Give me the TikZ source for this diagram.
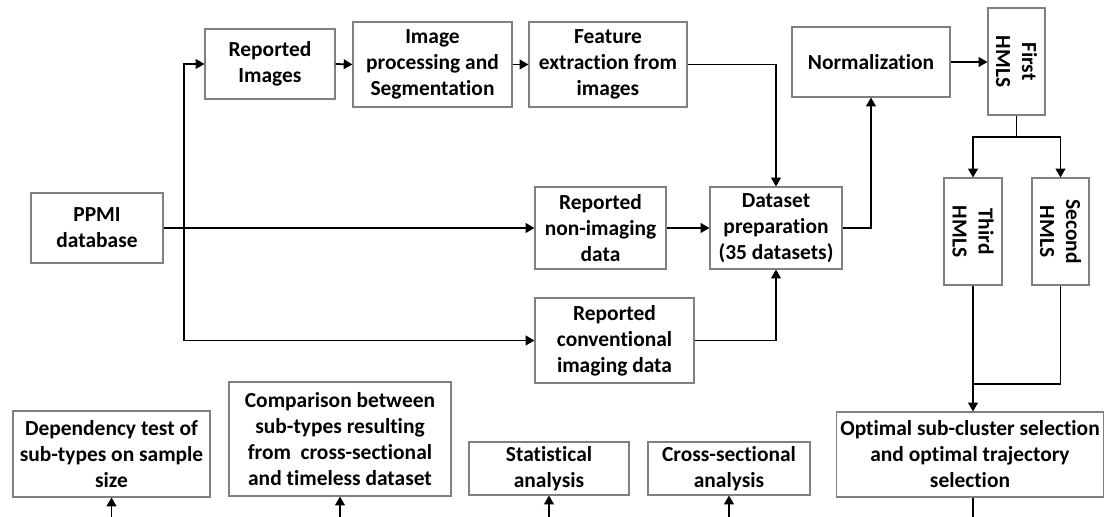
\documentclass[tikz,border=0pt]{standalone}
\usepackage{fontspec}
\setmainfont{Carlito}[Ligatures=NoCommon]
\usetikzlibrary{arrows.meta}

\begin{document}
\begin{tikzpicture}[
  box/.style={draw=black!50,line width=0.6pt,align=center,inner sep=2pt,
    font=\bfseries\fontsize{12.2}{14.8}\selectfont},
  flow/.style={line width=1pt,-{Triangle[length=5pt,width=5.5pt]}},
  link/.style={line width=1pt}
]
\useasboundingbox (0,0) rectangle (22.1,10.34);

% Data sources
\node[box,minimum width=2.64cm,minimum height=1.40cm] (ppmi) at (1.94,5.78) {PPMI\\database};
\node[box,minimum width=2.60cm,minimum height=1.40cm] (rimg) at (5.40,9.06) {Reported\\Images};
\node[box,minimum width=3.18cm,minimum height=1.70cm] (proc) at (8.65,9.05) {Image\\processing and\\Segmentation};
\node[box,minimum width=3.16cm,minimum height=1.70cm] (feat) at (12.16,9.05) {Feature\\extraction from\\images};
\node[box,minimum width=2.62cm,minimum height=1.64cm] (nonimg) at (12.01,5.78) {Reported\\non-imaging\\data};
\node[box,minimum width=3.18cm,minimum height=1.70cm] (conv) at (12.29,3.53) {Reported\\conventional\\imaging data};

% Dataset and normalization
\node[box,minimum width=2.64cm,minimum height=1.64cm] (data) at (15.52,5.78) {Dataset\\preparation\\(35 datasets)};
\node[box,minimum width=3.16cm,minimum height=1.40cm] (norm) at (17.42,9.10) {Normalization};

% HMLS levels (rotated: west is the top, east the bottom, south the left side)
\node[box,rotate=-90,minimum width=2.14cm,minimum height=1.14cm] (first) at (20.33,9.11) {First\\HMLS};
\node[box,rotate=-90,minimum width=2.14cm,minimum height=1.16cm] (third) at (19.46,5.71) {Third\\HMLS};
\node[box,rotate=-90,minimum width=2.14cm,minimum height=1.14cm] (second) at (21.21,5.71) {Second\\HMLS};
\node[box,minimum width=5.32cm,minimum height=1.70cm] (opt) at (19.40,1.25) {Optimal sub-cluster selection\\and optimal trajectory\\selection};

% Analyses
\node[box,minimum width=3.94cm,minimum height=1.72cm] (dep) at (2.23,1.26) {Dependency test of\\sub-types on sample\\size};
\node[box,minimum width=4.44cm,minimum height=2.28cm] (comp) at (6.80,1.56) {Comparison between\\sub-types resulting\\from~ cross-sectional\\and timeless dataset};
\node[box,minimum width=3.20cm,minimum height=1.06cm] (stat) at (10.98,0.97) {Statistical\\analysis};
\node[box,minimum width=3.24cm,minimum height=1.06cm] (cross) at (14.58,0.97) {Cross-sectional\\analysis};

% Connectors
\coordinate (split) at (3.68,5.78);
\draw[flow] (ppmi.east) -- (nonimg.west);
\draw[flow] (split) |- (rimg.west);
\draw[flow] (split) |- (conv.west);
\draw[flow] (rimg.east) -- (proc.west);
\draw[flow] (proc.east) -- (feat.west);
\draw[flow] (feat.east) -| (data.north);
\draw[flow] (nonimg.east) -- (data.west);
\draw[flow] (conv.east) -| (data.south);
\draw[flow] (data.east) -| (norm.south);
\draw[flow] (norm.east) -- (norm.east -| first.south);

\coordinate (fork) at (20.33,7.60);
\draw[link] (first.east) -- (fork);
\draw[flow] (fork) -| (third.west);
\draw[flow] (fork) -| (second.west);

\coordinate (join) at (19.46,2.66);
\draw[link] (second.east) |- (join);
\draw[flow] (third.east) -- (third.east |- opt.north);

% Loose ends at the bottom edge
\coordinate (optout) at (19.46,0);
\draw[link] (optout |- opt.south) -- (optout);
\coordinate (depin) at (2.23,0);
\coordinate (compin) at (6.80,0);
\coordinate (statin) at (10.98,0);
\coordinate (crossin) at (14.58,0);
\draw[flow] (depin) -- (dep.south);
\draw[flow] (compin) -- (comp.south);
\draw[flow] (statin) -- (stat.south);
\draw[flow] (crossin) -- (cross.south);

\end{tikzpicture}
\end{document}
